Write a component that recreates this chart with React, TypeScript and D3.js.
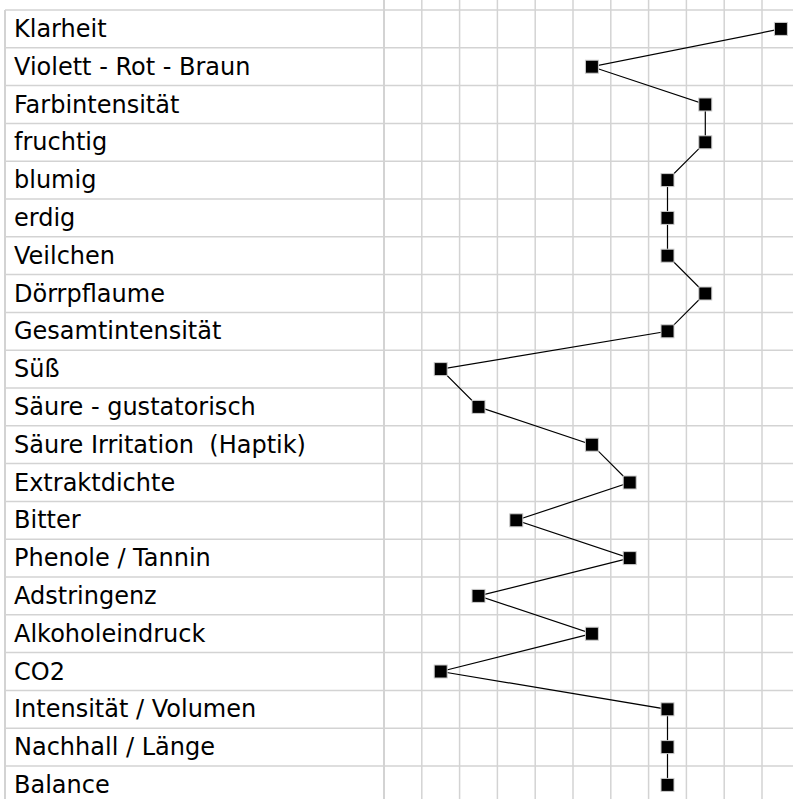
import React from "react";
import * as d3 from "d3";

// Merkmale (Zeilen) und Bewertung (Spalte 1..11)
const attributes = [
  "Klarheit",
  "Violett - Rot - Braun",
  "Farbintensität",
  "fruchtig",
  "blumig",
  "erdig",
  "Veilchen",
  "Dörrpflaume",
  "Gesamtintensität",
  "Süß",
  "Säure - gustatorisch",
  "Säure Irritation  (Haptik)",
  "Extraktdichte",
  "Bitter",
  "Phenole / Tannin",
  "Adstringenz",
  "Alkoholeindruck",
  "CO2",
  "Intensität / Volumen",
  "Nachhall / Länge",
  "Balance",
];

const scores = [11, 6, 9, 9, 8, 8, 8, 9, 8, 2, 3, 6, 7, 4, 7, 3, 6, 2, 8, 8, 8];

const scale = [1, 2, 3, 4, 5, 6, 7, 8, 9, 10, 11, 12];

const width = 793;
const height = 799;
const cell = 37.8;
const tableLeft = 5;
const tableRight = 384;
const top = 10;

export default function App() {
  const y = d3
    .scaleBand<string>()
    .domain(attributes)
    .range([top, top + attributes.length * cell]);

  const x = d3
    .scaleBand<number>()
    .domain(scale)
    .range([tableRight, tableRight + scale.length * cell]);

  const points: [number, number][] = attributes.map((a, i) => [
    (x(scores[i]) ?? 0) + x.bandwidth() / 2,
    (y(a) ?? 0) + y.bandwidth() / 2,
  ]);

  const line = d3.line();
  const gridColor = "#d3d3d3";
  const ms = 13;

  return (
    <svg
      width={width}
      height={height}
      style={{ position: "absolute", left: 0, top: 0, background: "#fff" }}
      fontFamily="DejaVu Sans, sans-serif"
    >
      {/* vertikale Gitterlinien */}
      {scale.map((s) => (
        <line
          key={"v" + s}
          x1={x(s)}
          x2={x(s)}
          y1={0}
          y2={height}
          stroke={gridColor}
          strokeWidth={s === 1 ? 2 : 1.5}
        />
      ))}
      <line x1={tableLeft} x2={tableLeft} y1={top} y2={height} stroke={gridColor} strokeWidth={2} />

      {/* horizontale Linien */}
      {attributes.map((a) => (
        <line
          key={"h" + a}
          x1={tableLeft}
          x2={width}
          y1={y(a)}
          y2={y(a)}
          stroke={gridColor}
          strokeWidth={1.5}
        />
      ))}

      {/* Beschriftungen */}
      {attributes.map((a) => (
        <text
          key={"t" + a}
          x={14}
          y={(y(a) ?? 0) + y.bandwidth() / 2 + 8}
          fontSize={24}
          fill="#000"
          style={{ whiteSpace: "pre" }}
        >
          {a}
        </text>
      ))}

      {/* Profil-Linie */}
      <path d={line(points) ?? ""} fill="none" stroke="#000" strokeWidth={1.2} />

      {points.map(([px, py], i) => (
        <rect
          key={"m" + i}
          x={px - ms / 2}
          y={py - ms / 2}
          width={ms}
          height={ms}
          fill="#000"
          stroke="#ccc"
          strokeWidth={1}
        />
      ))}
    </svg>
  );
}
